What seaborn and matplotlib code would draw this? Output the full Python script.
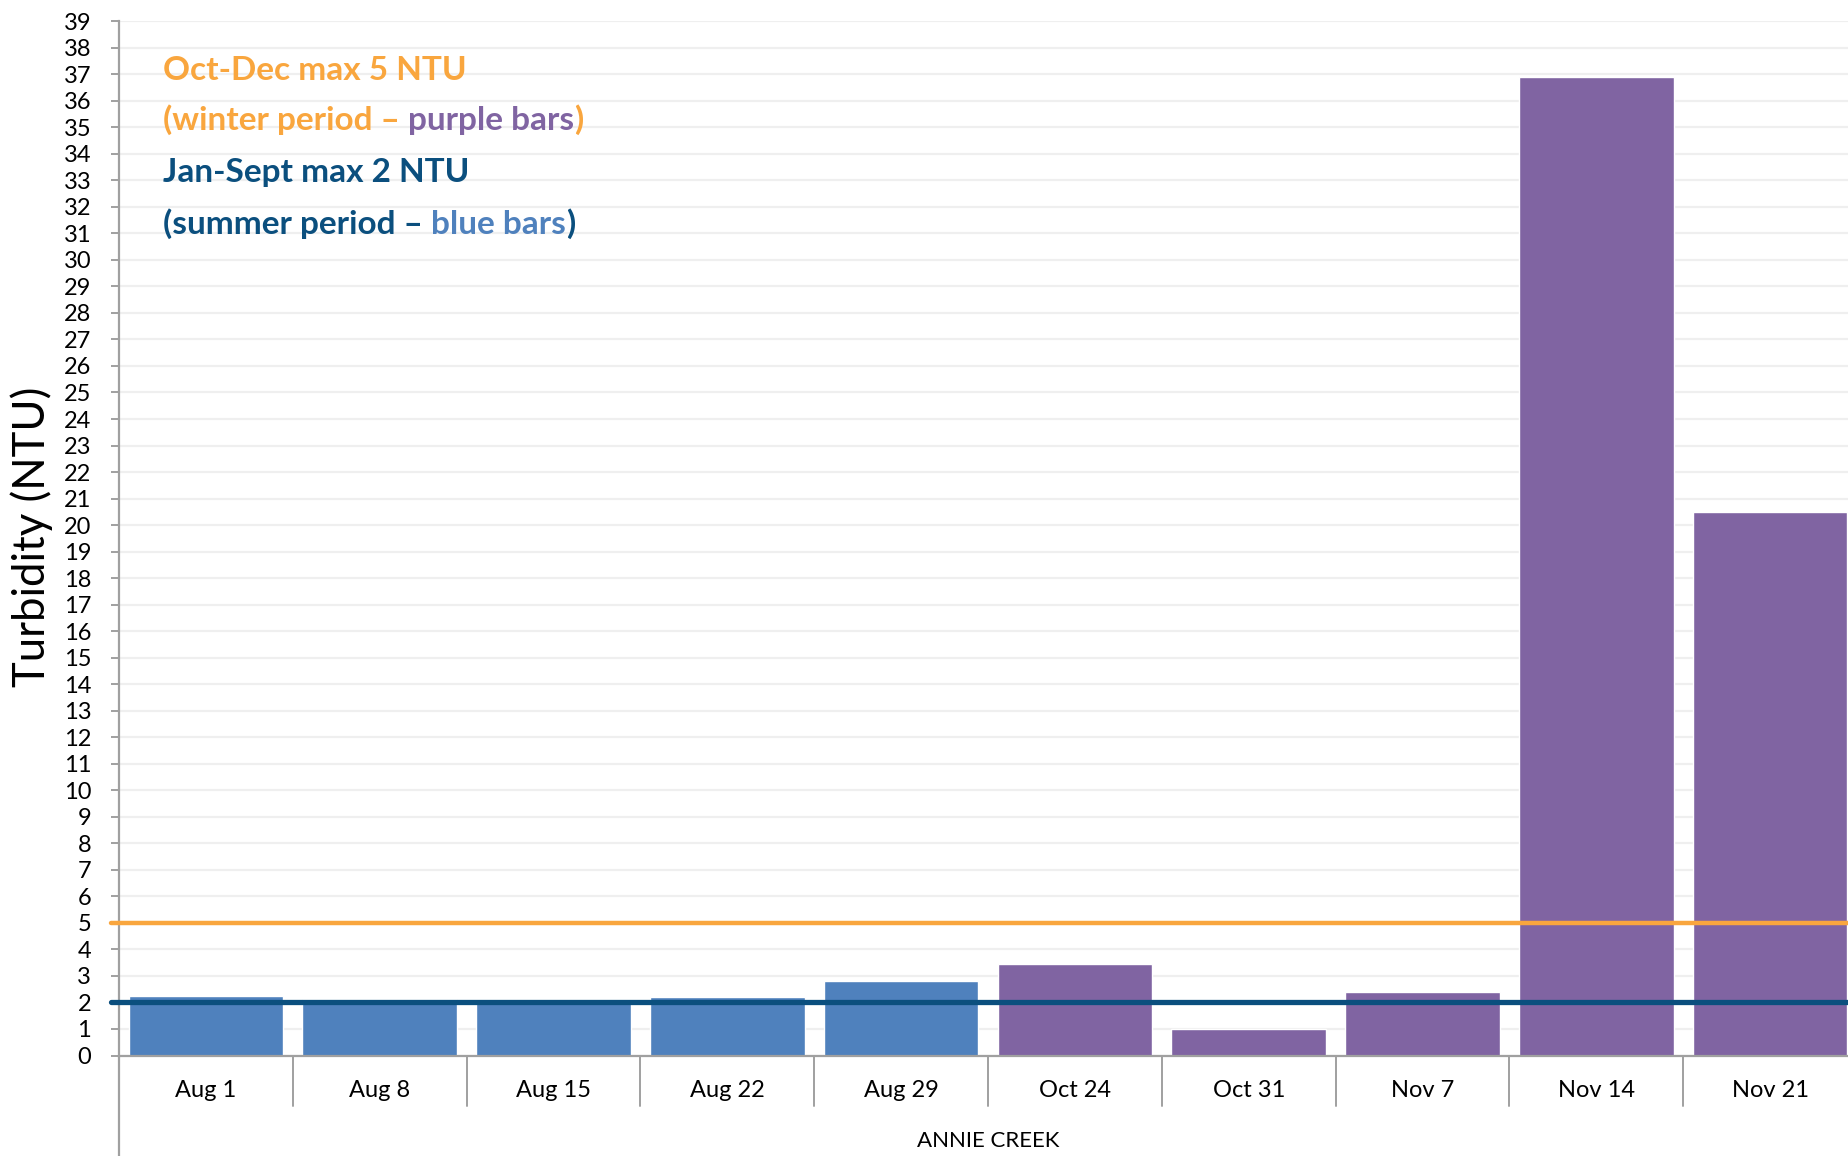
import matplotlib
matplotlib.use("Agg")
import matplotlib.pyplot as plt
import matplotlib.transforms as mtransforms
import seaborn as sns
import pandas as pd

# Weekly turbidity samples, Annie Creek
dates = ["Aug 1", "Aug 8", "Aug 15", "Aug 22", "Aug 29",
         "Oct 24", "Oct 31", "Nov 7", "Nov 14", "Nov 21"]
turbidity = [2.24, 2.13, 2.09, 2.2, 2.82, 3.45, 1.0, 2.39, 36.9, 20.5]
period = ["summer", "summer", "summer", "summer", "summer",
          "winter", "winter", "winter", "winter", "winter"]
winter_limit = 5
summer_limit = 2
site_name = "ANNIE CREEK"
y_ticks = list(range(0, 40))

BLUE = "#4F81BD"
PURPLE = "#8064A2"
ORANGE = "#F9A63E"
NAVY = "#0B4F7E"
GRID = "#EFEFEF"
AXIS = "#A0A0A0"

sns.set_theme(style="white")
plt.rcParams["font.family"] = ["Lato", "DejaVu Sans"]

df = pd.DataFrame({"date": dates, "ntu": turbidity, "period": period})

W, H = 1849, 1156
fig = plt.figure(figsize=(W / 100, H / 100), dpi=100)
ax_left, ax_bottom = 119 / W, 100.5 / H
ax_w, ax_h = 1738 / W, 1034.3 / H
ax = fig.add_axes([ax_left, ax_bottom, ax_w, ax_h])

sns.barplot(data=df, x="date", y="ntu", hue="period", order=dates,
            palette={"summer": BLUE, "winter": PURPLE}, dodge=False,
            width=0.89, saturation=1, legend=False, ax=ax, zorder=2)

ax.set_ylim(0, 39)
ax.set_xlim(-0.5, len(dates) - 0.5)
ax.set_yticks(y_ticks)
ax.yaxis.grid(True, color=GRID, linewidth=1.6, zorder=0)
ax.set_axisbelow(True)

for s in ["top", "right"]:
    ax.spines[s].set_visible(False)
for s in ["left", "bottom"]:
    ax.spines[s].set_color(AXIS)
    ax.spines[s].set_linewidth(1.6)

ax.tick_params(axis="y", length=6, width=1.4, color=AXIS, direction="out",
               pad=14, labelsize=17, labelcolor="black", left=True)
ax.tick_params(axis="x", length=0, pad=17.5, labelsize=17, labelcolor="black")
ax.set_xlabel("")
ax.set_ylabel("")

# Limit lines, running from the tick marks across the chart
ext = -8 / 1738
ax.axhline(winter_limit, xmin=ext, xmax=1, color=ORANGE, linewidth=3.2,
           zorder=3, clip_on=False)
ax.axhline(summer_limit, xmin=ext, xmax=1, color=NAVY, linewidth=3.8,
           zorder=3, clip_on=False)

# Category separators under the axis
trans = mtransforms.blended_transform_factory(ax.transData, ax.transAxes)
sep_drop = (1106 - 1055.5) / 1034.3
for k in range(1, len(dates) + 1):
    ax.plot([k - 0.5, k - 0.5], [0, -sep_drop], color=AXIS, lw=1.4,
            transform=trans, clip_on=False)
ax.plot([-0.5, -0.5], [0, -ax_bottom / ax_h - 0.01], color=AXIS, lw=1.6,
        transform=trans, clip_on=False)

# Site name below the categories
fig.text(ax_left + ax_w / 2, 1 - 1141 / H, site_name, ha="center",
         va="center", fontsize=16, color="black")

# Y axis title
fig.text(32 / W, 1 - 537 / H, "Turbidity (NTU)", rotation=90, ha="center",
         va="center", fontsize=31.5, color="black")


def colored_line(parts, x, y, size=24):
    """Draw a line of bold text made of differently coloured pieces."""
    first = fig.text(x, y, parts[0][0], color=parts[0][1], fontsize=size,
                     fontweight="bold", ha="left", va="center")
    prev = first
    for txt, col in parts[1:]:
        prev = ax.annotate(txt, xy=(1, 0), xycoords=prev, color=col,
                           fontsize=size, fontweight="bold",
                           ha="left", va="bottom")
    return first


colored_line([("Oct-Dec max 5 NTU", ORANGE)], 163 / W, 1 - 70 / H)
colored_line([("(winter period \u2013 ", ORANGE), ("purple bars", PURPLE),
              (")", ORANGE)], 163 / W, 1 - 120 / H)
colored_line([("Jan-Sept max 2 NTU", NAVY)], 163 / W, 1 - 172 / H)
colored_line([("(summer period \u2013 ", NAVY), ("blue bars", BLUE),
              (")", NAVY)], 163 / W, 1 - 224 / H)

fig.savefig("out.png", dpi=100, facecolor="white")
